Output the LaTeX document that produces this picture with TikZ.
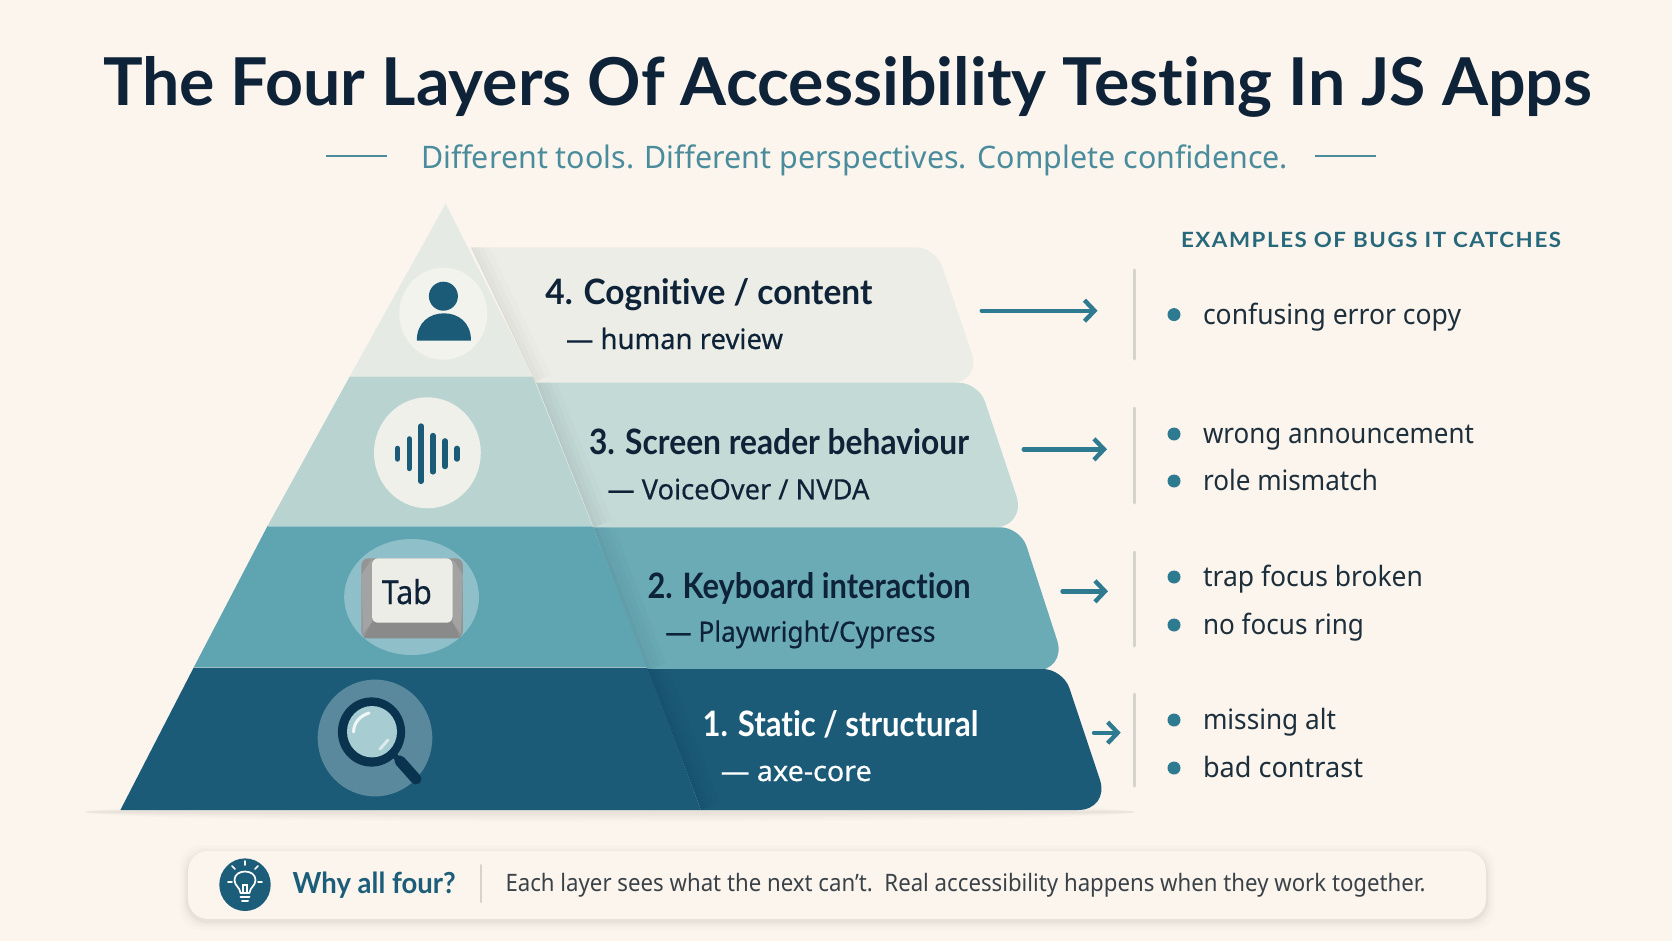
\documentclass[tikz,border=0pt]{standalone}
\usepackage{fontspec}
\usepackage{graphicx}
\setmainfont{Noto Sans}
\newfontfamily\hdfont[Ligatures=NoCommon]{Lato}
\newfontfamily\hdspaced[Ligatures=NoCommon,LetterSpace=7]{Lato}
\newfontfamily\medfont[FakeBold=0.4]{Noto Sans}
\usetikzlibrary{arrows.meta}
\definecolor{bgc}{HTML}{FBF5EE}
\definecolor{inkc}{HTML}{0E2238}
\definecolor{bodyc}{HTML}{1E2F3C}
\definecolor{tealc}{HTML}{1B5B78}
\definecolor{arrowc}{HTML}{2E7A90}
\definecolor{subc}{HTML}{4A8C9B}
\definecolor{sepc}{HTML}{D6D3CC}
\definecolor{pA}{HTML}{E6EAE4}
\definecolor{bA}{HTML}{ECEDE6}
\definecolor{pB}{HTML}{B9D4D0}
\definecolor{bB}{HTML}{C4DAD6}
\definecolor{pC}{HTML}{5FA4B1}
\definecolor{bC}{HTML}{6AABB6}
\definecolor{pD}{HTML}{1B5B78}
\definecolor{lensc}{HTML}{A7CCD1}
\definecolor{ringc}{HTML}{0A3350}
\definecolor{keyc}{HTML}{EDEDE8}
\definecolor{notec}{HTML}{3A4248}
\newcommand\fw[3]{\resizebox{#1pt}{\height}{\fontsize{#2}{#2}\selectfont #3}}
\newcommand\hb{\hdfont\bfseries}
\tikzset{
  txt/.style={anchor=base west,inner sep=0pt,outer sep=0pt},
  bandhead/.style={txt,text=inkc},
  catch/.style={->,>={Straight Barb[length=10pt,width=21pt,line width=4.4pt]},draw=arrowc,line width=4.4pt,line cap=round},
  vsep/.style={draw=sepc,line width=3pt,line cap=round},
  dot/.style={circle,fill=arrowc,minimum size=13pt,inner sep=0pt},
  rule/.style={draw=subc,line width=2.4pt},
  seam/.style={draw=black,line cap=butt},
}
\begin{document}
\begin{tikzpicture}[x=1pt,y=-1pt]
\useasboundingbox (0,0) rectangle (1672,941);
\fill[bgc] (0,0) rectangle (1672,941);
% ground shadow
\foreach \w/\o in {10/.012,8/.012,6/.014,4/.016,2.5/.02}{
  \fill[black,opacity=\o] (610,812) ellipse (525pt and \w pt);
}
% side bands
\fill[bA] (470.8,247.3) [rounded corners=20pt] -- (935.6,247.3) [rounded corners=32pt] -- (982,383.3) [sharp corners] -- (536,383.3) -- cycle;
\fill[bB] (536,382.7) [rounded corners=20pt] -- (978.7,382.7) [rounded corners=34pt] -- (1027,527.7) [sharp corners] -- (593.6,527.7) -- cycle;
\fill[bC] (593,527.3) [rounded corners=20pt] -- (1020.4,527.3) [rounded corners=32pt] -- (1067,670.7) [sharp corners] -- (647.5,670.7) -- cycle;
\fill[pD] (647,669) [rounded corners=20pt] -- (1063,669) [rounded corners=32pt] -- (1110,810) [sharp corners] -- (701,810) -- cycle;
% soft seams
\foreach \w/\o in {40/.012,28/.014,18/.016,8/.02}{
  \begin{scope}
  \clip (470.8,247.3) -- (935,247.3) -- (982,383.3) -- (536,383.3) -- cycle;
  \draw[seam,opacity=\o,line width=\w pt] (467.8,247.3) -- (532.9,383.3);
  \end{scope}
  \begin{scope}
  \clip (536,382.7) -- (978,382.7) -- (1029,527.7) -- (593.6,527.7) -- cycle;
  \draw[seam,opacity=\o,line width=\w pt] (532.9,376.7) -- (593.6,527.7);
  \end{scope}
  \begin{scope}
  \clip (593,527.3) -- (1020,527.3) -- (1067,670.7) -- (647.5,670.7) -- cycle;
  \draw[seam,opacity=\o,line width=\w pt] (592.5,526) -- (647.5,670.7);
  \end{scope}
  \begin{scope}
  \clip (647,669) -- (1063,669) -- (1110,810) -- (701,810) -- cycle;
  \draw[seam,opacity=\o,line width=\w pt] (647,667.7) -- (701,810);
  \end{scope}
}
% pyramid
\fill[pA] (445.7,203.5) -- (532.9,376.7) -- (349.6,376.7) -- cycle;
\fill[pB] (349.6,376.7) -- (532.9,376.7) -- (592.5,526) -- (267.5,526) -- cycle;
\fill[pC] (267.5,526) -- (592.5,526) -- (647,667.7) -- (193.6,667.7) -- cycle;
\fill[pD] (193.6,667.7) -- (647,667.7) -- (701,810) -- (120.4,810) -- cycle;
\draw[white,opacity=.35,line width=.8pt] (267.5,526) -- (592.5,526) (193.6,667.7) -- (647,667.7);
% person icon
\fill[bA!70!white] (443.3,313.7) ellipse (44pt and 46pt);
\fill[tealc] (443.4,296.2) circle (14.5);
\fill[tealc] (416.8,340.7) .. controls (416.8,322) and (430,313.3) .. (443.9,313.3) .. controls (458,313.3) and (471,322) .. (471,340.7) -- cycle;
% wave icon
\fill[bA!85!white] (427.4,452.8) ellipse (53.4pt and 55.5pt);
\foreach \x/\h in {397.5/16,409.3/35,421.1/60.7,433/41.7,445/31,457/16}{
  \draw[tealc,line width=5.4pt,line cap=round] (\x,453.7-\h/2+2.7) -- (\x,453.7+\h/2-2.7);
}
% tab key icon
\fill[white,opacity=.3] (411.6,597) ellipse (67.4pt and 58pt);
\fill[rounded corners=7pt,fill=black!42] (361.4,558.3) rectangle (462.9,638.3);
\fill[black!46] (372,622) -- (452.5,622) -- (459,636) -- (460,638) -- (364,638) -- (365,636) -- cycle;
\fill[black!36] (361.4,575) -- (372,558.3) -- (372,622) -- (363,634) -- cycle;
\fill[black!36] (462.9,575) -- (452.5,558.3) -- (452.5,622) -- (461,634) -- cycle;
\fill[rounded corners=6pt,fill=keyc] (372,558.3) rectangle (452.5,622.7);
\node[txt,text=inkc] (tabkey) at (381.8,604) {\fw{50}{33}{\medfont Tab}};
% magnifier icon
\fill[white,opacity=.28] (375,738) ellipse (57.3pt and 58.4pt);
\draw[line width=11pt,line cap=round,draw=ringc] (400,761) -- (416,779);
\draw[line width=6pt,draw=ringc] (392,753) -- (400,761);
\fill[ringc] (371.5,732) ellipse (33.6pt and 34.6pt);
\fill[lensc] (372,731.7) ellipse (25pt and 25.7pt);
\draw[white,opacity=.85,line width=3pt,line cap=round] (353.5,732) .. controls (354,722) and (360,716) .. (369,713);
\draw[white,opacity=.6,line width=3pt,line cap=round] (380,749) -- (388,740);
% title
\node[txt,text=inkc] (title) at (103,106) {\fw{1489}{66}{\hb The Four Layers Of Accessibility Testing In JS Apps}};
\coordinate (ruleAa) at (326,156);
\coordinate (ruleAb) at (387,156);
\coordinate (ruleBa) at (1315,156);
\coordinate (ruleBb) at (1376,156);
\draw[rule] (ruleAa) -- (ruleAb);
\draw[rule] (ruleBa) -- (ruleBb);
\node[txt,text=subc] (subtitle) at (421,168.5) {\fw{867}{31}{Different tools. Different perspectives. Complete confidence.}};
\node[txt,text=arrowc!85!black] (header) at (1181,247.4) {\fw{380}{21}{\hdspaced\bfseries EXAMPLES OF BUGS IT CATCHES}};
% band labels
\node[bandhead] (h4) at (545.4,305) {\fw{327}{35}{\hb 4. Cognitive / content}};
\node[bandhead] (s4) at (566,349) {\fw{217}{28}{\medfont — human review}};
\node[bandhead] (h3) at (589,454.3) {\fw{380}{35}{\hb 3. Screen reader behaviour}};
\node[bandhead] (s3) at (607.4,499.3) {\fw{262}{28}{\medfont — VoiceOver / NVDA}};
\node[bandhead] (h2) at (647.5,598.3) {\fw{323}{35}{\hb 2. Keyboard interaction}};
\node[bandhead] (s2) at (665.4,641.7) {\fw{270}{28}{\medfont — Playwright/Cypress}};
\node[txt,text=white] (h1) at (702.5,736.7) {\fw{276}{35}{\hb 1. Static / structural}};
\node[txt,text=white] (s1) at (720.7,781) {\fw{151}{28}{\medfont — axe-core}};
% arrows
\coordinate (a4s) at (981.7,310.7); \coordinate (a4e) at (1097.5,310.7);
\coordinate (a3s) at (1023.7,449.3); \coordinate (a3e) at (1107,449.3);
\coordinate (a2s) at (1062.5,591.3); \coordinate (a2e) at (1108,591.3);
\coordinate (a1s) at (1094,732.7); \coordinate (a1e) at (1120.7,732.7);
\draw[catch] (a4s) -- (a4e);
\draw[catch] (a3s) -- (a3e);
\draw[catch] (a2s) -- (a2e);
\draw[catch] (a1s) -- (a1e);
% separators
\coordinate (v4a) at (1134,270); \coordinate (v4b) at (1134,359);
\coordinate (v3a) at (1134,408); \coordinate (v3b) at (1134,503);
\coordinate (v2a) at (1134,552); \coordinate (v2b) at (1134,646);
\coordinate (v1a) at (1134,694); \coordinate (v1b) at (1134,786);
\draw[vsep] (v4a) -- (v4b);
\draw[vsep] (v3a) -- (v3b);
\draw[vsep] (v2a) -- (v2b);
\draw[vsep] (v1a) -- (v1b);
% bullets
\foreach \n/\y/\t/\w in {a/314.6/confusing error copy/258,b/434/wrong announcement/271,c/481/role mismatch/175,d/577/trap focus broken/220,e/625/no focus ring/161,f/720/missing alt/133,g/768/bad contrast/160}{
  \node[dot] (dot\n) at (1174,\y) {};
  \node[txt,text=bodyc] (item\n) at (1203,\y+9.5) {\fw{\w}{28}{\t}};
}
% bottom bar
\foreach \d/\o in {9/.012,6/.016,4/.02,2/.03}{
  \fill[black,opacity=\o,rounded corners=22pt] (188-\d,851-\d+3) rectangle (1486+\d,919+\d+2);
}
\fill[bgc,rounded corners=20pt] (188,851) rectangle (1486,919);
\fill[tealc!95!arrowc] (245,884.7) ellipse (25.7pt and 26.3pt);
% bulb
\draw[white,line width=1.7pt,line join=round] (240.5,893) .. controls (240,887) and (234.5,886) .. (234.5,880) .. controls (234.5,874.5) and (239.5,871.5) .. (245,871.5) .. controls (250.5,871.5) and (255.5,874.5) .. (255.5,880) .. controls (255.5,886) and (250,887) .. (249.5,893) -- cycle;
\draw[white,line width=1.2pt] (243,893) -- (243,885) -- (247,885) -- (247,893);
\draw[white,line width=2pt,line cap=round] (240.5,896.5) -- (249.5,896.5) (242,900.5) -- (248,900.5);
\draw[white,line width=1.7pt,line cap=round] (245,861) -- (245,865) (232,866) -- (235,869) (258,866) -- (255,869) (228,882) -- (232,882) (258,882) -- (262,882);
\node[txt,text=tealc!95!arrowc] (why) at (292.7,893) {\fw{163}{29}{\hb Why all four?}};
\coordinate (ba) at (480.7,865); \coordinate (bb) at (480.7,902);
\draw[vsep,line width=2pt] (ba) -- (bb);
\node[txt,text=notec] (note) at (505.5,891.5) {\fw{920}{24}{Each layer sees what the next can’t.\ \ Real accessibility happens when they work together.}};
\end{tikzpicture}
\end{document}
